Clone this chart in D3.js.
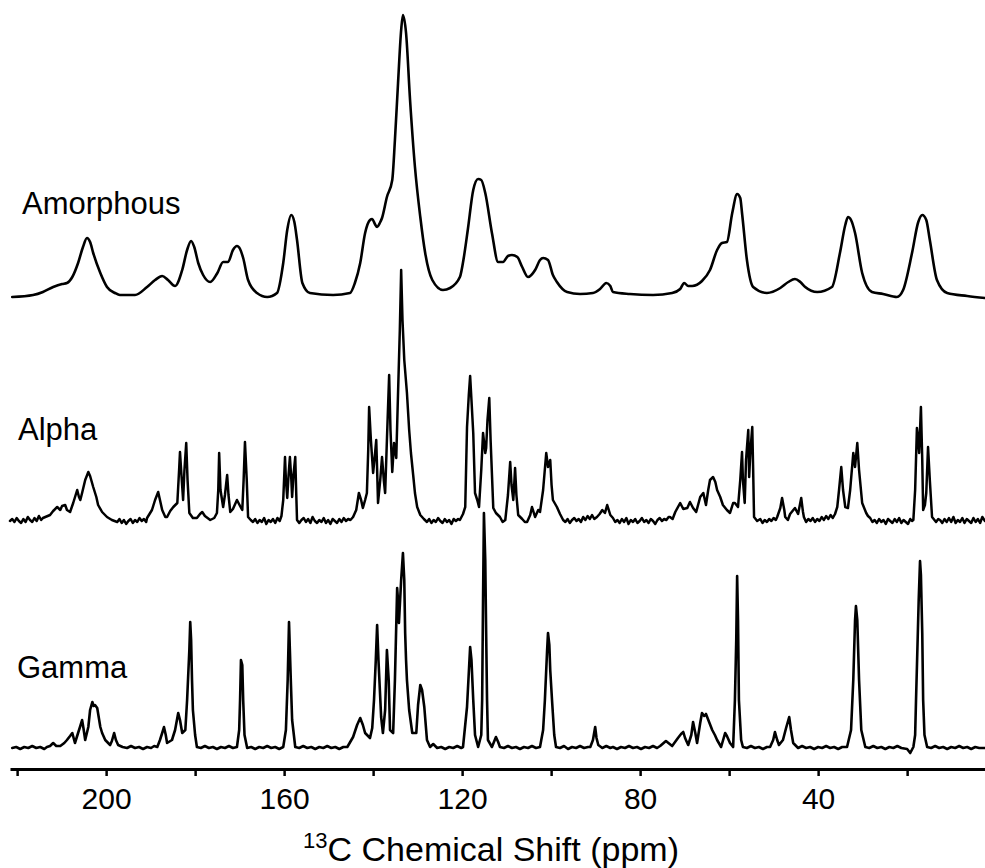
<!DOCTYPE html>
<html><head><meta charset="utf-8">
<script src="https://cdn.jsdelivr.net/npm/d3@7/dist/d3.min.js"></script>
<style>body{margin:0;background:#fff}svg{display:block}</style>
</head><body><svg id="chart" width="985" height="868"></svg>
<script>
// ---- data (ppm, relative intensity) ----
const seriesNames = ["Amorphous", "Alpha", "Gamma"];
const xTickValues = [220, 200, 180, 160, 140, 120, 100, 80, 60, 40, 20];
const xTickLabels = [200, 160, 120, 80, 40];
const axisTitleSup = "13";
const axisTitleMain = "C Chemical Shift (ppm)";

const amorphous = [[221.1,0],[216.4,2],[214.2,5],[211.9,10],[209.9,13],[208.8,14],[207.6,20],[206.3,34],[205.2,50],[204.3,59],[203.6,55],[202.9,44],[201.3,24],[199.8,10],[198.0,4],[196.9,2],[193.5,2],[190.8,10],[189.0,17],[187.4,21],[186.1,17],[184.5,11],[182.9,27],[181.8,47],[180.9,56],[180.2,50],[179.3,34],[178.2,22],[176.6,15],[175.0,24],[173.7,35],[172.6,35],[171.5,47],[170.6,51],[169.9,48],[169.2,39],[168.1,17],[166.1,4],[163.8,0],[161.6,4],[160.2,34],[159.3,67],[158.4,82],[157.7,75],[157.1,57],[155.9,14],[154.2,4],[149.0,2],[145.2,4],[144.1,14],[142.9,34],[141.8,64],[140.7,77],[140.2,78],[139.6,73],[139.1,70],[138.5,74],[138.0,79],[136.9,100],[135.7,117],[135.1,157],[134.4,214],[133.7,267],[133.3,282],[132.6,264],[131.7,197],[130.6,130],[129.4,80],[128.3,44],[126.7,17],[124.3,7],[122.7,9],[120.5,20],[119.6,40],[118.7,68],[117.5,107],[116.4,118],[115.7,117],[114.8,104],[113.3,64],[111.9,35],[110.8,35],[109.7,41],[108.8,42],[107.6,40],[106.5,30],[105.2,20],[103.6,27],[102.5,37],[101.8,39],[100.7,37],[99.6,22],[98.7,15],[96.4,5],[93.5,3],[90.6,4],[89.0,8],[87.6,14],[86.7,11],[86.1,5],[82.3,3],[77.1,2],[72.8,4],[71.0,8],[70.1,14],[69.2,11],[68.3,11],[66.1,16],[64.3,27],[62.7,47],[61.6,54],[60.5,55],[59.3,84],[58.2,103],[57.5,99],[57.1,84],[56.0,37],[54.6,10],[51.5,4],[48.5,9],[46.7,15],[45.2,18],[44.0,15],[42.9,10],[40.2,5],[36.9,10],[35.1,44],[33.9,72],[33.3,80],[32.6,77],[31.7,64],[30.1,24],[27.9,5],[25.4,3],[22.3,0],[20.9,7],[18.9,44],[17.5,75],[16.6,82],[15.7,77],[14.9,57],[13.3,17],[11.0,4],[6.5,1],[2.5,-1]];

const alpha = [[221.6,0],[221.1,2],[220.6,-1],[220.1,3],[219.6,0],[219.1,-2],[218.6,2],[218.1,-1],[217.6,4],[217.1,1],[216.6,-1],[216.1,3],[215.6,0],[215.1,5],[214.6,1],[214.2,3],[212.6,6],[211.9,10],[211.0,14],[210.3,11],[209.9,15],[209.2,16],[208.8,11],[208.1,9],[207.4,18],[206.5,31],[206.1,24],[205.8,21],[205.4,28],[204.7,41],[204.0,49],[203.6,45],[202.9,34],[202.2,24],[201.8,16],[200.9,9],[199.8,4],[198.7,1],[197.5,-1],[197.0,2],[196.5,-2],[196.0,1],[195.5,-3],[195.0,0],[194.5,2],[194.0,-2],[193.5,1],[193.0,-1],[192.5,3],[192.0,0],[191.5,2],[191.0,-1],[190.8,3],[189.7,11],[189.0,21],[188.3,29],[187.9,21],[187.4,11],[186.7,4],[186.3,4],[185.6,10],[184.9,14],[184.0,18],[183.6,51],[183.4,69],[183.0,41],[182.7,21],[182.4,51],[182.0,78],[181.7,41],[181.3,8],[180.5,3],[179.6,3],[178.9,7],[178.4,9],[177.8,5],[176.6,1],[175.7,3],[175.1,8],[174.8,31],[174.6,68],[174.3,31],[173.7,14],[173.3,26],[172.8,46],[172.5,26],[172.1,9],[171.5,12],[170.6,21],[169.9,15],[169.4,11],[169.1,41],[168.8,79],[168.4,41],[168.1,4],[167.5,1],[167.0,-1],[166.5,2],[166.0,-2],[165.5,1],[165.0,-1],[164.5,3],[164.0,-3],[163.5,1],[163.0,-1],[162.5,2],[162.0,-2],[161.5,3],[161.0,0],[160.6,5],[160.2,21],[159.8,64],[159.6,41],[159.3,23],[159.0,46],[158.7,64],[158.4,43],[158.2,24],[157.9,46],[157.5,64],[157.3,31],[157.1,1],[156.6,-2],[156.1,1],[155.6,3],[155.1,-1],[154.6,2],[154.1,-2],[153.6,4],[153.1,0],[152.6,-2],[152.1,1],[151.6,-1],[151.1,3],[150.6,-2],[150.1,1],[149.6,-3],[149.1,2],[148.6,0],[148.1,-2],[147.6,2],[147.1,-1],[146.6,3],[146.1,0],[145.6,2],[145.1,1],[144.5,4],[143.8,11],[143.2,28],[142.7,21],[142.3,13],[141.8,21],[141.4,28],[141.1,71],[140.9,114],[140.5,81],[140.0,48],[139.6,66],[139.3,81],[139.1,51],[138.9,18],[138.4,41],[138.0,64],[137.6,41],[137.3,28],[136.9,81],[136.4,146],[136.1,91],[135.7,49],[135.3,78],[134.8,63],[134.4,128],[134.0,191],[133.7,251],[133.4,201],[133.0,161],[132.4,128],[131.9,91],[131.5,68],[131.0,46],[130.6,28],[130.1,14],[129.4,6],[128.6,2],[127.9,-1],[127.4,2],[126.9,-2],[126.4,1],[125.9,-1],[125.4,3],[124.9,0],[124.4,-2],[123.9,2],[123.4,-1],[122.9,1],[122.4,-3],[121.9,2],[121.4,0],[120.9,2],[120.5,1],[119.8,7],[119.3,14],[118.9,94],[118.5,126],[118.2,145],[117.9,121],[117.5,88],[117.1,28],[116.6,21],[116.2,14],[115.7,51],[115.3,88],[114.8,68],[114.6,73],[114.3,101],[113.9,123],[113.6,81],[113.0,13],[112.4,8],[111.5,4],[110.9,-1],[110.3,1],[109.7,26],[109.2,59],[108.9,36],[108.5,21],[108.3,36],[108.1,53],[107.8,26],[107.4,6],[106.5,2],[105.9,-1],[105.4,-1],[104.7,6],[104.3,14],[103.6,4],[102.9,11],[102.5,9],[101.8,31],[101.1,68],[100.7,54],[100.2,61],[99.9,36],[99.6,21],[98.7,14],[98.0,7],[97.3,1],[96.8,-1],[96.3,2],[95.8,-2],[95.3,1],[94.8,3],[94.3,0],[93.8,2],[93.3,-1],[92.8,4],[92.3,1],[91.8,5],[91.3,2],[90.8,6],[90.3,2],[89.7,4],[89.1,7],[88.5,11],[87.9,8],[87.4,16],[86.7,6],[86.1,3],[85.6,-1],[85.1,1],[84.6,-2],[84.1,2],[83.6,-1],[83.1,3],[82.6,-3],[82.1,1],[81.6,-1],[81.1,2],[80.6,-2],[80.1,0],[79.6,3],[79.1,-1],[78.6,1],[78.1,-2],[77.6,2],[77.1,0],[76.6,-3],[76.1,1],[75.6,3],[75.1,0],[74.6,2],[74.1,1],[73.6,4],[73.3,4],[72.7,2],[72.1,9],[71.0,18],[70.3,12],[69.4,13],[68.8,19],[68.1,13],[67.4,9],[66.5,24],[65.8,28],[65.2,16],[64.7,31],[64.3,41],[63.6,44],[63.1,39],[62.7,31],[62.0,24],[61.4,16],[60.5,11],[59.8,8],[59.1,18],[58.7,18],[58.0,14],[57.5,41],[57.1,69],[56.9,41],[56.5,18],[56.2,61],[55.7,91],[55.5,44],[55.2,71],[54.8,94],[54.6,51],[54.4,4],[53.7,0],[53.0,2],[52.5,-2],[52.0,1],[51.5,-1],[51.0,2],[50.5,0],[50.0,3],[49.5,1],[49.2,4],[48.5,13],[48.1,23],[47.6,11],[47.4,4],[46.8,1],[46.3,7],[45.2,13],[44.5,7],[43.8,23],[43.4,9],[43.2,4],[42.7,-1],[42.2,2],[41.7,0],[41.2,3],[40.7,-1],[40.2,2],[39.7,0],[39.2,4],[38.7,1],[38.2,5],[37.7,2],[37.2,6],[36.7,3],[36.2,7],[35.7,14],[35.3,31],[34.8,54],[34.4,31],[33.9,14],[33.3,13],[32.8,31],[32.1,68],[31.7,54],[31.2,78],[30.8,51],[30.1,18],[29.2,8],[28.8,5],[28.3,3],[27.8,-1],[27.3,1],[26.8,-2],[26.3,2],[25.8,-1],[25.3,1],[24.8,-3],[24.3,2],[23.8,0],[23.3,-2],[22.8,2],[22.3,-1],[21.8,3],[21.3,-2],[20.8,1],[20.3,-1],[19.8,-3],[19.3,2],[18.9,0],[18.6,1],[18.2,31],[17.8,93],[17.5,81],[17.3,68],[17.1,91],[16.9,114],[16.6,61],[16.4,11],[16.0,16],[15.7,28],[15.5,51],[15.3,74],[14.9,41],[14.4,4],[13.5,-1],[13.0,2],[12.6,1],[12.1,-2],[11.6,2],[11.1,-1],[10.6,3],[10.1,-1],[9.6,4],[9.1,-2],[8.6,1],[8.1,-1],[7.6,3],[7.1,-2],[6.6,2],[6.1,0],[5.6,-2],[5.1,3],[4.6,-1],[4.1,2],[3.6,-2],[3.1,4],[2.5,0]];

const gamma = [[221.1,0],[220.2,1],[219.3,-1],[218.4,1],[217.5,0],[216.6,2],[215.7,0],[214.8,1],[213.9,-1],[213.3,1],[212.6,2],[211.9,5],[211.2,2],[210.3,2],[209.4,5],[208.8,8],[208.1,12],[207.6,15],[207.0,5],[206.3,15],[205.8,22],[205.4,28],[205.1,20],[204.7,8],[204.0,21],[203.6,38],[203.1,46],[202.8,42],[202.5,43],[202.0,40],[201.3,21],[200.9,15],[200.2,8],[199.1,3],[198.7,7],[198.2,15],[197.8,8],[197.3,3],[196.3,1],[195.3,0],[194.4,2],[193.5,0],[192.6,1],[191.7,-1],[190.8,1],[189.9,0],[189.2,2],[188.5,1],[187.9,8],[187.4,15],[187.0,21],[186.6,13],[186.3,5],[185.2,8],[184.5,18],[183.8,35],[183.4,28],[182.9,15],[182.2,18],[181.8,48],[181.3,98],[181.1,126],[180.9,108],[180.7,68],[180.5,38],[180.0,13],[179.6,1],[178.7,0],[177.8,2],[176.9,0],[176.0,1],[175.1,-1],[174.2,1],[173.3,0],[172.4,2],[171.5,0],[170.6,1],[170.1,18],[169.9,48],[169.7,88],[169.4,83],[169.2,48],[168.9,13],[168.3,0],[167.4,1],[166.5,-1],[165.6,1],[164.7,0],[163.8,2],[162.9,0],[162.0,1],[161.1,-1],[160.2,1],[159.6,18],[159.2,68],[158.9,126],[158.5,68],[158.2,28],[157.5,1],[156.6,0],[155.7,2],[154.8,0],[153.9,1],[153.0,-1],[152.1,1],[151.2,0],[150.3,2],[149.4,0],[148.5,1],[147.6,-1],[146.7,1],[145.8,1],[144.5,11],[143.6,23],[142.9,30],[142.3,23],[141.8,15],[140.7,10],[140.2,20],[139.8,48],[139.4,88],[139.1,123],[138.8,88],[138.2,31],[137.8,15],[137.3,38],[136.9,98],[136.5,68],[136.2,18],[135.5,15],[135.1,68],[134.6,160],[134.4,148],[134.2,125],[133.7,168],[133.3,195],[133.0,168],[132.8,115],[132.6,88],[132.4,68],[131.9,38],[131.2,15],[130.3,15],[129.9,43],[129.4,63],[129.0,58],[128.5,41],[127.9,8],[127.2,1],[126.5,4],[125.6,0],[124.7,1],[123.8,-1],[122.9,1],[122.0,0],[121.1,2],[120.2,0],[119.8,1],[118.9,41],[118.2,101],[117.9,88],[117.5,48],[117.1,13],[116.4,1],[115.7,13],[115.5,48],[115.3,148],[115.1,235],[114.8,188],[114.6,115],[114.4,48],[114.2,8],[113.3,1],[112.4,11],[111.9,6],[111.5,1],[110.6,0],[109.7,2],[108.8,0],[107.9,1],[107.0,-1],[106.1,1],[105.2,0],[104.3,2],[103.4,0],[102.5,1],[101.8,18],[101.4,48],[100.9,98],[100.7,115],[100.4,103],[100.2,78],[99.8,48],[99.3,13],[98.9,1],[98.0,0],[97.1,2],[96.2,-1],[95.3,1],[94.4,0],[93.5,2],[92.6,0],[91.7,1],[91.2,1],[90.6,8],[90.1,21],[89.8,10],[89.4,3],[88.5,0],[87.6,2],[86.7,0],[86.1,1],[85.2,-1],[84.3,1],[83.4,0],[82.5,2],[81.6,0],[80.7,1],[79.8,-1],[78.9,1],[78.0,0],[77.1,2],[76.2,0],[75.5,2],[74.2,7],[72.8,2],[71.5,10],[70.8,14],[70.3,16],[69.9,10],[69.2,3],[68.5,13],[68.1,26],[67.6,15],[67.2,5],[66.5,25],[66.1,35],[65.6,32],[65.2,34],[64.5,26],[63.8,18],[63.2,13],[62.7,8],[61.8,1],[60.9,15],[60.5,12],[59.8,5],[59.1,1],[58.7,48],[58.4,108],[58.2,172],[58.0,128],[57.8,48],[57.3,8],[56.9,1],[56.0,0],[55.1,2],[54.2,0],[53.3,1],[52.4,-1],[51.5,1],[50.8,1],[50.1,8],[49.7,16],[49.2,8],[48.8,3],[47.9,8],[47.2,20],[46.5,31],[46.1,18],[45.6,5],[44.5,0],[43.6,2],[42.7,0],[41.8,1],[40.9,-1],[40.0,1],[39.1,0],[38.2,2],[37.3,0],[36.4,1],[35.5,-1],[34.6,1],[33.5,1],[32.6,18],[32.1,68],[31.7,128],[31.5,142],[31.2,128],[30.8,68],[30.3,18],[29.4,1],[28.5,0],[27.6,2],[26.7,0],[25.8,1],[24.9,-1],[24.0,1],[23.1,0],[22.2,2],[21.3,0],[20.0,-1],[19.3,-5],[18.6,1],[18.2,13],[18.0,48],[17.8,81],[17.4,148],[17.1,187],[16.9,173],[16.6,115],[16.4,48],[16.1,13],[15.5,1],[14.6,0],[13.7,2],[12.8,0],[11.9,1],[11.0,-1],[10.1,1],[9.2,0],[8.3,2],[7.4,0],[6.5,1],[5.6,-1],[4.7,1],[3.8,0],[2.5,0]];

// ---- layout ----
const W = 985, H = 868;
const FONT = "'Liberation Sans', Arial, Helvetica, sans-serif";
const axisY = 769;
const traceBaselines = [297, 521, 748];
const labelPos = [[22, 214], [18, 440], [17, 678]];

const svg = d3.select("#chart");
svg.append("rect").attr("width", W).attr("height", H).attr("fill", "#fff");

const x = d3.scaleLinear().domain([221.6, 2.5]).range([10, 985]);
const y = d3.scaleLinear().domain([0, 300]).range([0, -300]);

const series = [amorphous, alpha, gamma];
const curves = [d3.curveMonotoneX, d3.curveLinear, d3.curveLinear];
const widths = [2.6, 2.5, 2.6];

series.forEach((data, i) => {
  const line = d3.line().x(d => x(d[0])).y(d => y(d[1])).curve(curves[i]);
  const g = svg.append("g").attr("transform", `translate(0,${traceBaselines[i]})`);
  g.append("path").datum(data)
    .attr("d", line)
    .attr("fill", "none")
    .attr("stroke", "#000")
    .attr("stroke-width", widths[i])
    .attr("stroke-linejoin", "round")
    .attr("stroke-linecap", "round");
  svg.append("text")
    .attr("x", labelPos[i][0]).attr("y", labelPos[i][1])
    .attr("font-family", FONT).attr("font-size", 31)
    .attr("fill", "#000")
    .text(seriesNames[i]);
});

// ---- x axis ----
const axis = d3.axisBottom(x)
  .tickValues(xTickValues)
  .tickSize(7)
  .tickSizeOuter(0)
  .tickPadding(12)
  .tickFormat(d => xTickLabels.includes(d) ? String(d) : "");
const ax = svg.append("g").attr("transform", `translate(0,${axisY})`).call(axis);
ax.select(".domain").attr("stroke", "#000").attr("stroke-width", 3);
ax.selectAll(".tick line").attr("stroke", "#000").attr("stroke-width", 2.5);
ax.selectAll(".tick text")
  .attr("font-family", FONT).attr("font-size", 30).attr("fill", "#000");

const title = svg.append("text")
  .attr("x", 491).attr("y", 861)
  .attr("text-anchor", "middle")
  .attr("font-family", FONT).attr("fill", "#000");
title.append("tspan").attr("font-size", 22).attr("dy", -13).text(axisTitleSup);
title.append("tspan").attr("font-size", 34).attr("dy", 13).text(axisTitleMain);
</script>
</body></html>
